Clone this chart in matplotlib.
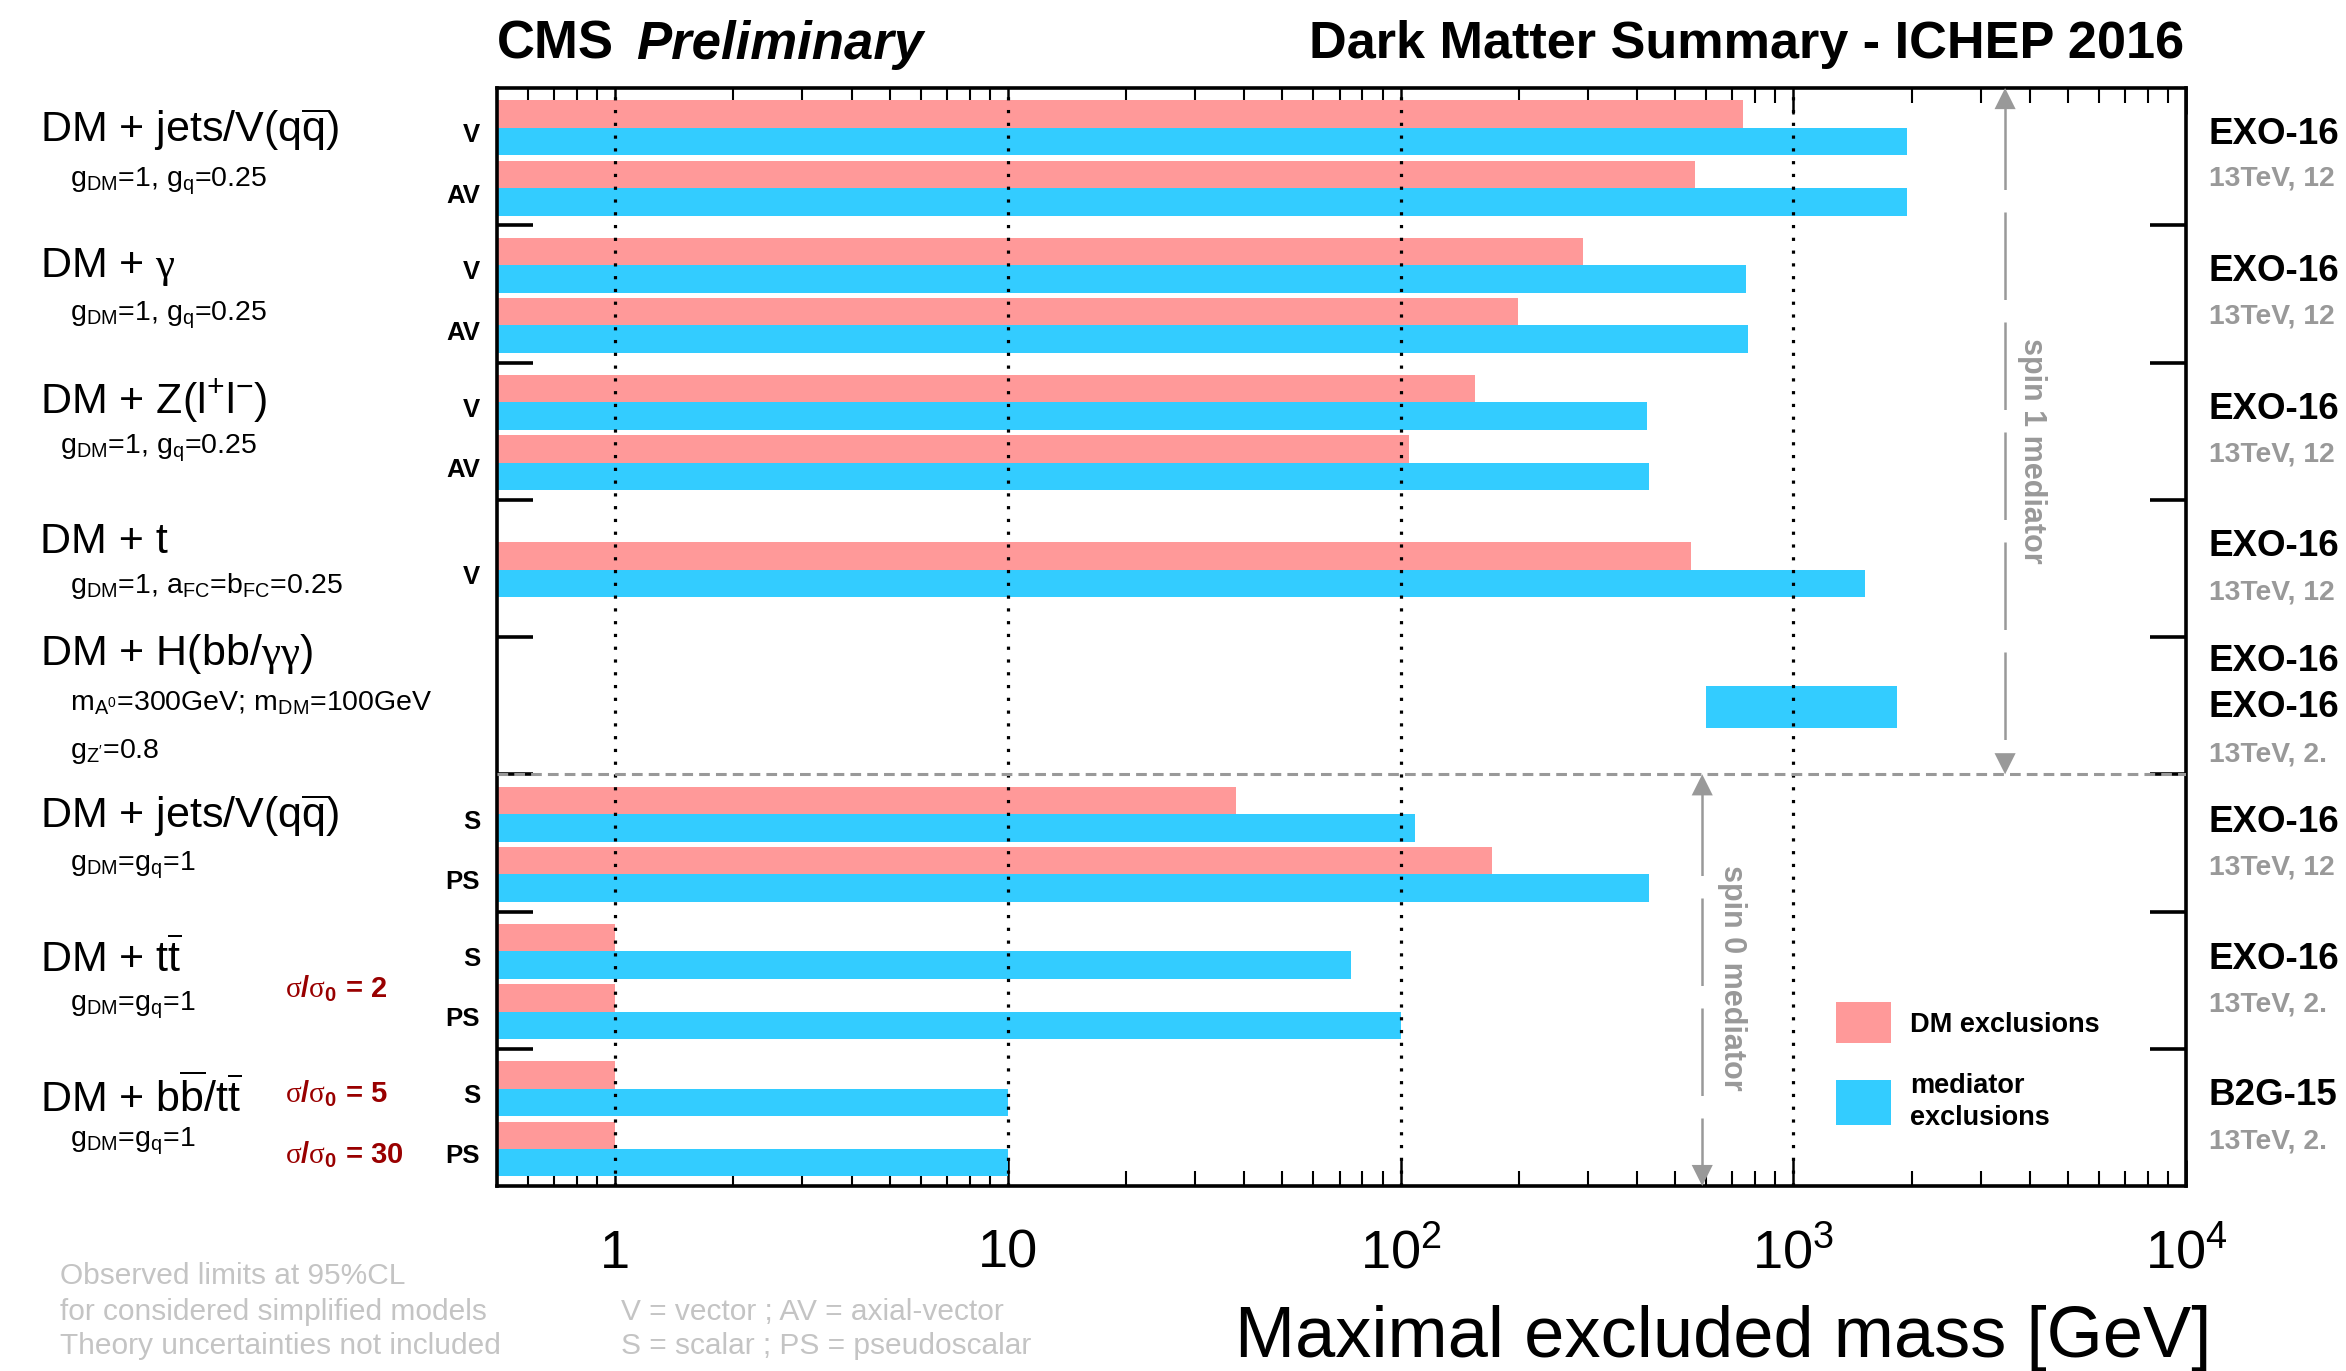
import numpy as np
import matplotlib
matplotlib.use("Agg")
import matplotlib.pyplot as plt
import matplotlib.patches as mpatches
from matplotlib.transforms import blended_transform_factory

plt.rcParams.update({
    "font.family": "Liberation Sans",
    "mathtext.fontset": "custom",
    "mathtext.rm": "Liberation Sans",
    "mathtext.it": "Liberation Sans:italic",
    "mathtext.bf": "Liberation Sans:bold",
    "mathtext.sf": "Liberation Serif",   # greek letters drawn in a serif face
})

C_DM = "#FF9999"
C_MED = "#33CCFF"
C_GREY = "#999999"
C_NOTE = "#C4C4C4"
C_SIG = "#990000"

# ── data ─────────────────────────────────────────────────────────────────
group_titles = [
    r"DM + jets/V(q$\overline{\mathrm{q}}$)",
    r"DM + $\mathsf{\gamma}$",
    r"DM + Z(l$^{+}$l$^{-}$)",
    "DM + t",
    r"DM + H(bb/$\mathsf{\gamma\gamma}$)",
    r"DM + jets/V(q$\overline{\mathrm{q}}$)",
    r"DM + t$\overline{\mathrm{t}}$",
    r"DM + b$\overline{\mathrm{b}}$/t$\overline{\mathrm{t}}$",
]
group_couplings = [
    [r"g$_{\mathrm{DM}}$=1, g$_{\mathrm{q}}$=0.25"],
    [r"g$_{\mathrm{DM}}$=1, g$_{\mathrm{q}}$=0.25"],
    [r"g$_{\mathrm{DM}}$=1, g$_{\mathrm{q}}$=0.25"],
    [r"g$_{\mathrm{DM}}$=1, a$_{\mathrm{FC}}$=b$_{\mathrm{FC}}$=0.25"],
    [r"m$_{\mathrm{A}^{0}}$=300GeV; m$_{\mathrm{DM}}$=100GeV", r"g$_{\mathrm{Z'}}$=0.8"],
    [r"g$_{\mathrm{DM}}$=g$_{\mathrm{q}}$=1"],
    [r"g$_{\mathrm{DM}}$=g$_{\mathrm{q}}$=1"],
    [r"g$_{\mathrm{DM}}$=g$_{\mathrm{q}}$=1"],
]
# analysis references, as far as they show before the right edge
group_refs = [
    ["EXO-16"], ["EXO-16"], ["EXO-16"], ["EXO-16"],
    ["EXO-16", "EXO-16"], ["EXO-16"], ["EXO-16"], ["B2G-15"],
]
group_lumi = [
    "13TeV, 12", "13TeV, 12", "13TeV, 12", "13TeV, 12",
    "13TeV, 2.", "13TeV, 12", "13TeV, 2.", "13TeV, 2.",
]

# one entry per bar pair
row_group = [0, 0, 1, 1, 2, 2, 3, 4, 5, 5, 6, 6, 7, 7]
row_label = ["V", "AV", "V", "AV", "V", "AV", "V", "", "S", "PS", "S", "PS", "S", "PS"]
dm_mass = [744, 561, 291, 199, 155, 105, 550, np.nan, 38, 171, 1, 1, 1, 1]
med_mass = [1950, 1950, 759, 768, 425, 430, 1520, 1842, 109, 430, 75, 100, 10, 10]
h_med_low = 601   # DM + H mediator band starts here

sigma_labels = ["2", "5", "30"]

X_MIN, X_MAX = 0.5, 1e4
N_GROUPS = len(group_titles)

# ── figure ───────────────────────────────────────────────────────────────
fig = plt.figure(figsize=(23.46, 13.71), dpi=100)
ax = fig.add_axes([0.2118, 0.1349, 0.9318 - 0.2118, 0.9358 - 0.1349])
ax.set_xscale("log")
ax.set_xlim(X_MIN, X_MAX)
ax.set_ylim(N_GROUPS, 0)

# slot centres inside a group (top = 0)
row_c = []
for i, g in enumerate(row_group):
    n = row_group.count(g)
    k = row_group[:i].count(g)
    row_c.append(g + (0.51 if n == 1 else [0.29, 0.73][k]))

for c, g, dm, med in zip(row_c, row_group, dm_mass, med_mass):
    if g == 4:
        ax.barh(c - 0.15, med - h_med_low, left=h_med_low, height=0.3,
                align="edge", color=C_MED, lw=0, zorder=2)
        continue
    ax.barh(c - 0.2, dm - X_MIN, left=X_MIN, height=0.2, align="edge",
            color=C_DM, lw=0, zorder=2)
    ax.barh(c, med - X_MIN, left=X_MIN, height=0.2, align="edge",
            color=C_MED, lw=0, zorder=2)

for v in [1, 10, 100, 1000]:
    ax.axvline(v, color="k", lw=2.3, ls=(0, (1, 3)), zorder=3)

ax.axhline(5, color=C_GREY, lw=2.2, ls=(0, (3.5, 2)), zorder=4)

# spin arrows
ytr = ax.get_yaxis_transform()
for xa, y0, y1, lbl, xt, yt in [(0.8929, 0, 5, "spin 1 mediator", 0.909, 2.64),
                                (0.7136, 5, 8, "spin 0 mediator", 0.731, 6.48)]:
    ax.plot([xa, xa], [y0 + 0.1, y1 - 0.1], transform=ytr, color=C_GREY,
            lw=1.8, ls=(0, (35, 9)), zorder=4, clip_on=False)
    for tip, tail in [(y0, y0 + 0.3), (y1, y1 - 0.3)]:
        ax.annotate("", xy=(xa, tip), xytext=(xa, tail), xycoords=ytr,
                    arrowprops=dict(arrowstyle="-|>", color=C_GREY, lw=0,
                                    mutation_scale=38, shrinkA=0, shrinkB=0),
                    zorder=4)
    ax.text(xt, yt, lbl, transform=ytr, rotation=-90, ha="center", va="center",
            color=C_GREY, fontsize=22, fontweight="bold")

# legend
ax.add_patch(mpatches.Rectangle((0.793, 0.130), 0.0326, 0.038,
                                transform=ax.transAxes, color=C_DM, lw=0))
ax.add_patch(mpatches.Rectangle((0.793, 0.056), 0.0326, 0.0405,
                                transform=ax.transAxes, color=C_MED, lw=0))
ax.text(0.8366, 0.147, "DM exclusions", transform=ax.transAxes, va="center",
        fontsize=19.5, fontweight="bold")
ax.text(0.8366, 0.0765, "mediator\nexclusions", transform=ax.transAxes,
        va="center", fontsize=19.5, fontweight="bold", linespacing=1.3)

# axes styling
for s in ax.spines.values():
    s.set_linewidth(2.6)
ax.set_xticks([1, 10, 100, 1000, 10000])
ax.set_xticklabels(["1", "10", r"$10^{2}$", r"$10^{3}$", r"$10^{4}$"])
ax.tick_params(axis="x", which="major", direction="in", top=True, bottom=True,
               length=19, width=1.8, labelsize=39, pad=59)
ax.tick_params(axis="x", which="minor", direction="in", top=True, bottom=True,
               length=11, width=1.5)
for t in ax.get_xticklabels():
    t.set_verticalalignment("baseline")
ax.set_yticks(range(1, N_GROUPS))
ax.set_yticklabels([])
ax.tick_params(axis="y", which="both", direction="in", left=True, right=True,
               length=26, width=2.6)
ax.tick_params(axis="y", which="minor", length=0)

ax.set_xlabel("Maximal excluded mass [GeV]", fontsize=52, ha="right", va="center")
ax.xaxis.set_label_coords(1.0148, -0.139)

# ── labels outside the axes ───────────────────────────────────────────────
ltr = blended_transform_factory(fig.transFigure, ax.transData)

title_base = [0.39, 1.375, 2.368, 3.39, 4.204, 5.394, 6.438, 7.459]
coup_base = [[0.714], [1.695], [2.662], [3.682], [4.532, 4.884], [5.703], [6.718], [7.714]]
coup_x = [0.0298, 0.0298, 0.0256, 0.0298, 0.0298, 0.0298, 0.0298, 0.0298]
for g in range(N_GROUPS):
    fig.text(0.0171, title_base[g], group_titles[g], transform=ltr,
             va="baseline", fontsize=31)
    for txt, yb in zip(group_couplings[g], coup_base[g]):
        fig.text(coup_x[g], yb, txt, transform=ltr, va="baseline", fontsize=20.5)

for c, lbl in zip(row_c, row_label):
    if lbl:
        fig.text(0.2046, c + 0.105, lbl, transform=ltr, ha="right",
                 va="baseline", fontsize=18.5, fontweight="bold")

for yb, s in zip([6.621, 7.386, 7.835], sigma_labels):
    fig.text(0.1215, yb, r"$\mathsf{\sigma}$/$\mathsf{\sigma}_{\mathbf{0}}$ = " + s,
             transform=ltr, va="baseline", fontsize=21, fontweight="bold",
             color=C_SIG)

ref_y = [[0.336], [1.339], [2.34], [3.34], [4.18, 4.51], [5.35], [6.35], [7.34]]
lumi_y = [0.66, 1.663, 2.667, 3.677, 4.857, 5.677, 6.677, 7.677]
for g in range(N_GROUPS):
    for txt, yc in zip(group_refs[g], ref_y[g]):
        fig.text(0.9415, yc, txt, transform=ltr, va="center", fontsize=26.5,
                 fontweight="bold")
    fig.text(0.9415, lumi_y[g], group_lumi[g], transform=ltr, va="center",
             fontsize=20.3, fontweight="bold", color=C_GREY)

# titles
fig.text(0.2118, 0.9675, "CMS", fontsize=38, fontweight="bold", va="center")
fig.text(0.2711, 0.9675, "Preliminary", fontsize=38, fontweight="bold",
         style="italic", va="center")
fig.text(0.931, 0.9675, "Dark Matter Summary - ICHEP 2016", fontsize=37.6,
         fontweight="bold", ha="right", va="center")

# footnotes
notes_left = ["Observed limits at 95%CL", "for considered simplified models",
              "Theory uncertainties not included"]
notes_right = ["V = vector ; AV = axial-vector", "S = scalar ; PS = pseudoscalar"]
for yf, txt in zip([0.0693, 0.0430, 0.0182], notes_left):
    fig.text(0.0256, yf, txt, va="center", fontsize=21.5, color=C_NOTE)
for yf, txt in zip([0.0430, 0.0182], notes_right):
    fig.text(0.2647, yf, txt, va="center", fontsize=21.5, color=C_NOTE)

fig.savefig("out.png", dpi=100)
